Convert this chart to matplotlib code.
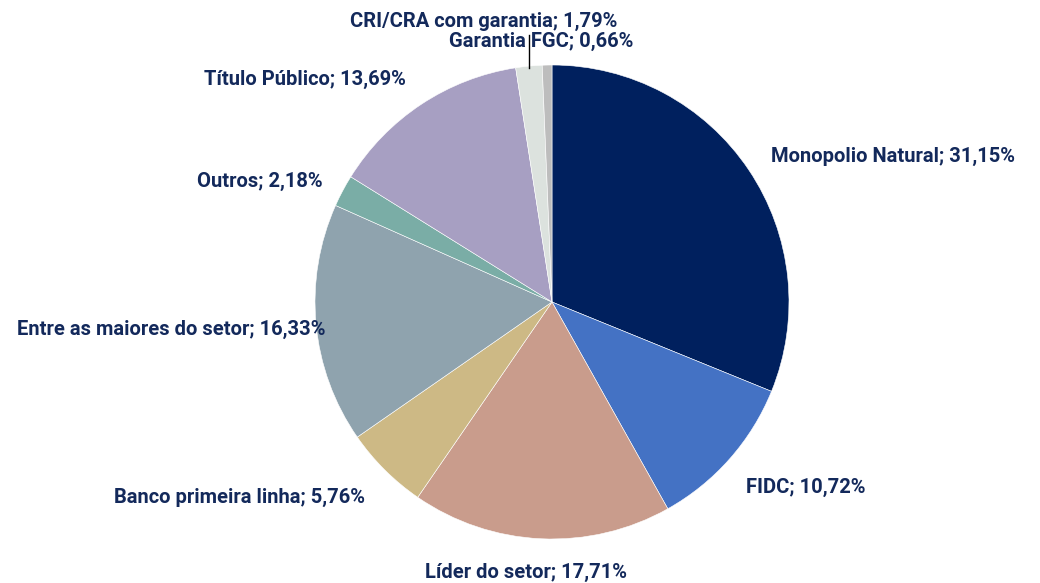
import matplotlib
matplotlib.use("Agg")
import matplotlib.pyplot as plt

# data
categories = ['Monopolio Natural', 'FIDC', 'Líder do setor', 'Banco primeira linha',
              'Entre as maiores do setor', 'Outros', 'Título Público',
              'CRI/CRA com garantia', 'Garantia FGC']
shares = [31.15, 10.72, 17.71, 5.76, 16.33, 2.18, 13.69, 1.79, 0.66]
colors = ['#00205E', '#4472C4', '#C99C8C', '#CDB985', '#8FA3AE',
          '#7AADA6', '#A79FC2', '#DCE2DE', '#BDBDBD']

# label anchor positions (pixels, from top-left)
label_pos = [(893, 156), (806, 487), (526, 572), (240, 497), (171, 329),
             (260, 181), (305, 79), (484, 21), (541, 41)]

W, H = 1040, 583
fig = plt.figure(figsize=(W / 100, H / 100), dpi=100)
ax = fig.add_axes([0, 0, 1, 1])

cx, cy, r = 552, H - 302, 237
ax.pie(shares, colors=colors, startangle=90, counterclock=False,
       center=(cx, cy), radius=r, frame=True,
       wedgeprops=dict(edgecolor='white', linewidth=0.4))
ax.set_xlim(0, W)
ax.set_ylim(0, H)
ax.axis('off')

txt_color = '#13295B'
for name, val, (px, py) in zip(categories, shares, label_pos):
    s = f"{name}; {val:.2f}%".replace('.', ',')
    ax.text(px, H - py, s, ha='center', va='center', fontsize=14.5,
            fontweight='bold', color=txt_color, family='Roboto')

# leader line for CRI/CRA
ax.plot([529, 529], [H - 35, H - 68], color='black', lw=1)

fig.savefig('out.png', dpi=100)
